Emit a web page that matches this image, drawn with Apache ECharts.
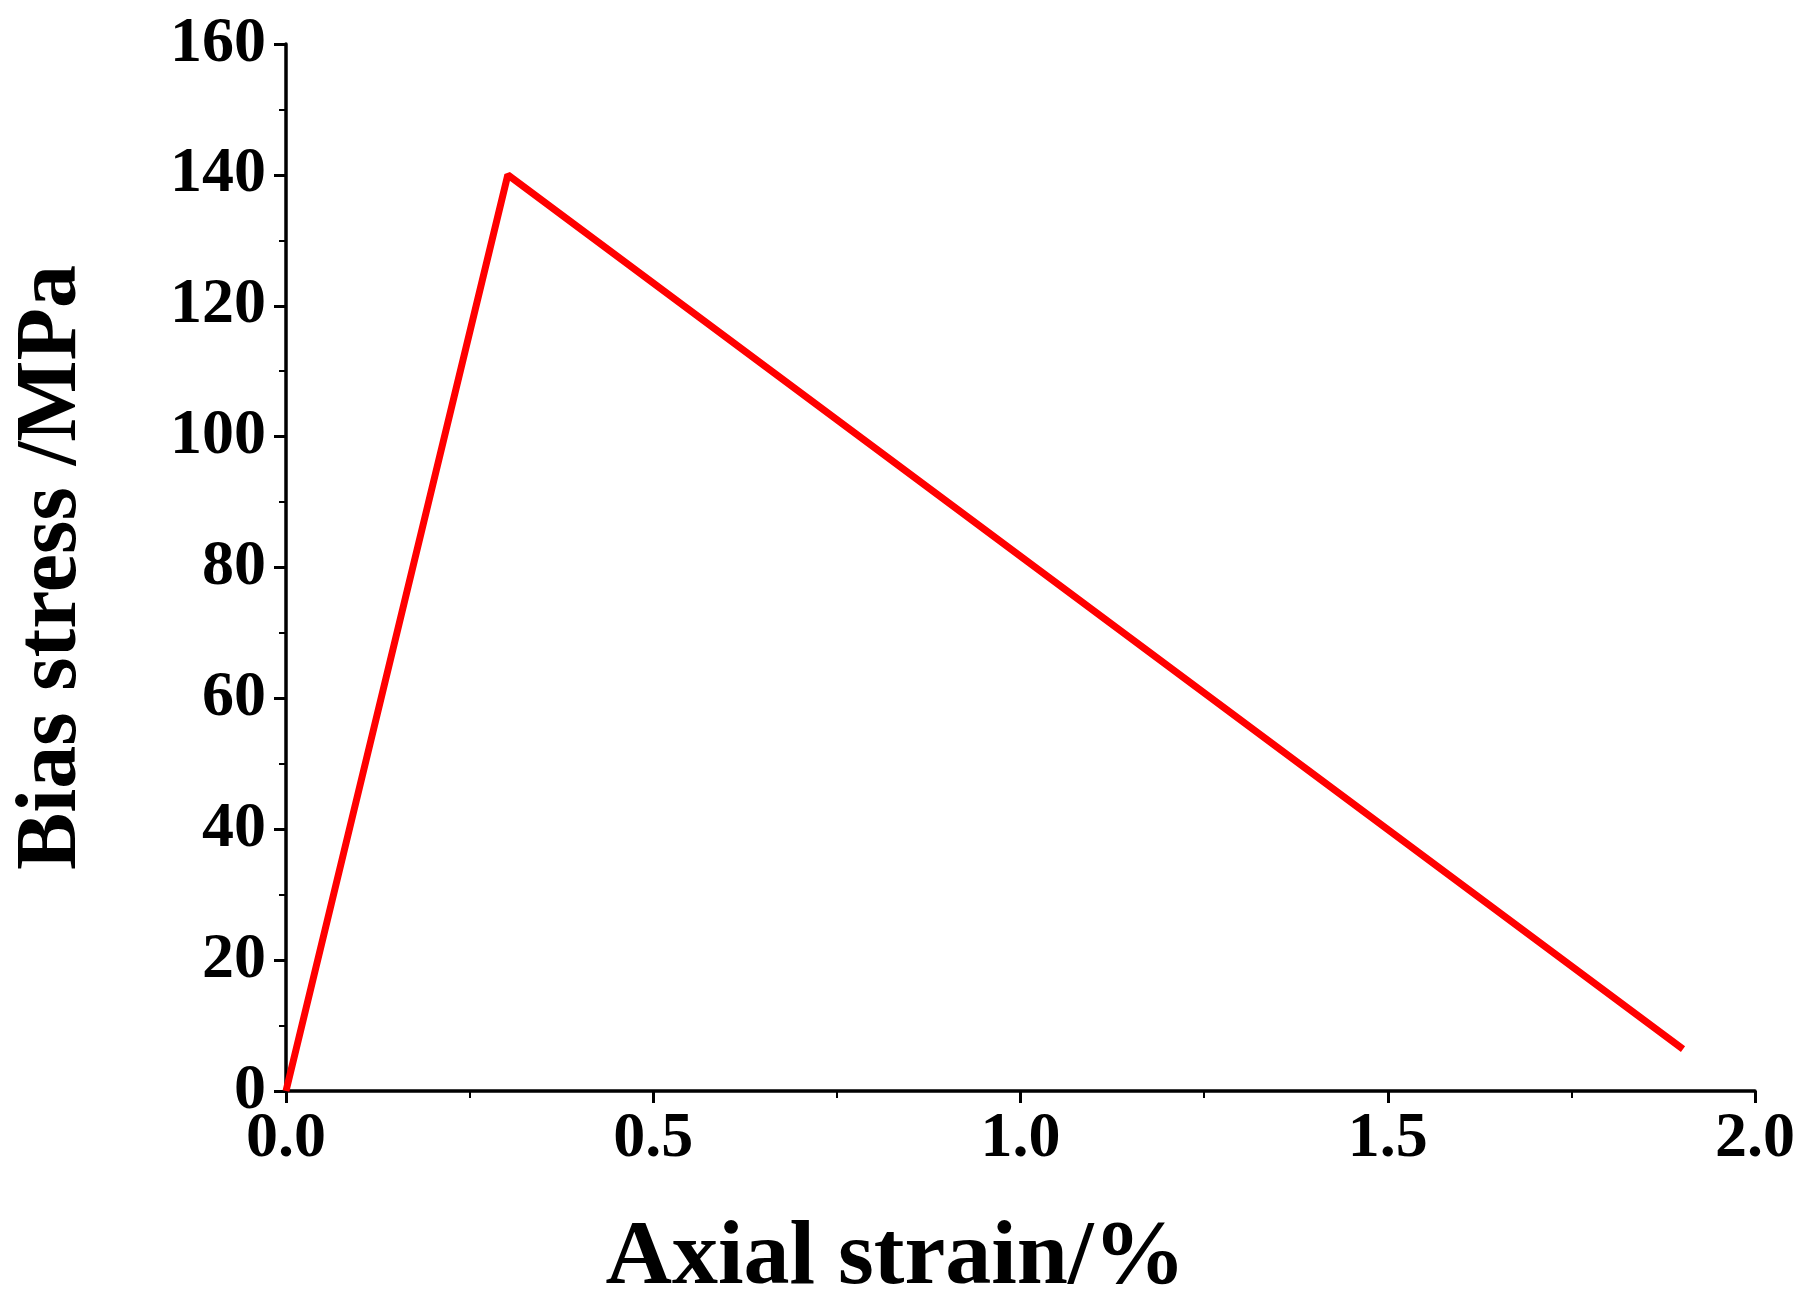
<!DOCTYPE html>
<html>
<head>
<meta charset="utf-8">
<script src="https://cdn.jsdelivr.net/npm/echarts@6/dist/echarts.min.js"></script>
<style>html,body{margin:0;padding:0;background:#fff}#main{width:1820px;height:1310px}</style>
</head>
<body>
<div id="main"></div>
<script>
// 应变 / 偏应力
var strain=[0, 0.302, 1.902];
var stress=[0, 140, 6.4];
var font='"Liberation Serif","Times New Roman",serif';

var pts=[];
for(var i=0;i<strain.length;i++){ pts.push([strain[i],stress[i]]); }

var axisCommon={
	axisLine:{show:true,onZero:false,lineStyle:{color:'#000',width:3.5}},
	axisTick:{show:true,inside:false,length:12,lineStyle:{color:'#000',width:3}},
	minorTick:{show:true,splitNumber:2,length:7,lineStyle:{color:'#000',width:2}},
	splitLine:{show:false},
	axisLabel:{color:'#000',fontFamily:font,fontWeight:'bold',fontSize:64}
};

var myChart=echarts.init(document.getElementById('main'));
myChart.setOption({
	animation:false,
	grid:{left:286,right:65,top:44,bottom:214},
	xAxis:Object.assign({
		type:'value',min:0,max:2,interval:0.5,
		name:'Axial strain/%',nameLocation:'middle',nameGap:122,
		nameTextStyle:{color:'#000',fontFamily:font,fontWeight:'bold',fontSize:92,padding:[0,250,0,0]}
	},axisCommon,{axisLabel:Object.assign({},axisCommon.axisLabel,{margin:16,formatter:function(v){return v.toFixed(1);}})}),
	yAxis:Object.assign({
		type:'value',min:0,max:160,interval:20,
		name:'Bias stress /MPa',nameLocation:'middle',nameGap:190,
		nameTextStyle:{color:'#000',fontFamily:font,fontWeight:'bold',fontSize:86}
	},axisCommon,{axisLabel:Object.assign({},axisCommon.axisLabel,{margin:20})}),
	series:[{
		type:'line',data:pts,showSymbol:false,
		lineStyle:{color:'#ff0000',width:7}
	}]
});
</script>
</body>
</html>
